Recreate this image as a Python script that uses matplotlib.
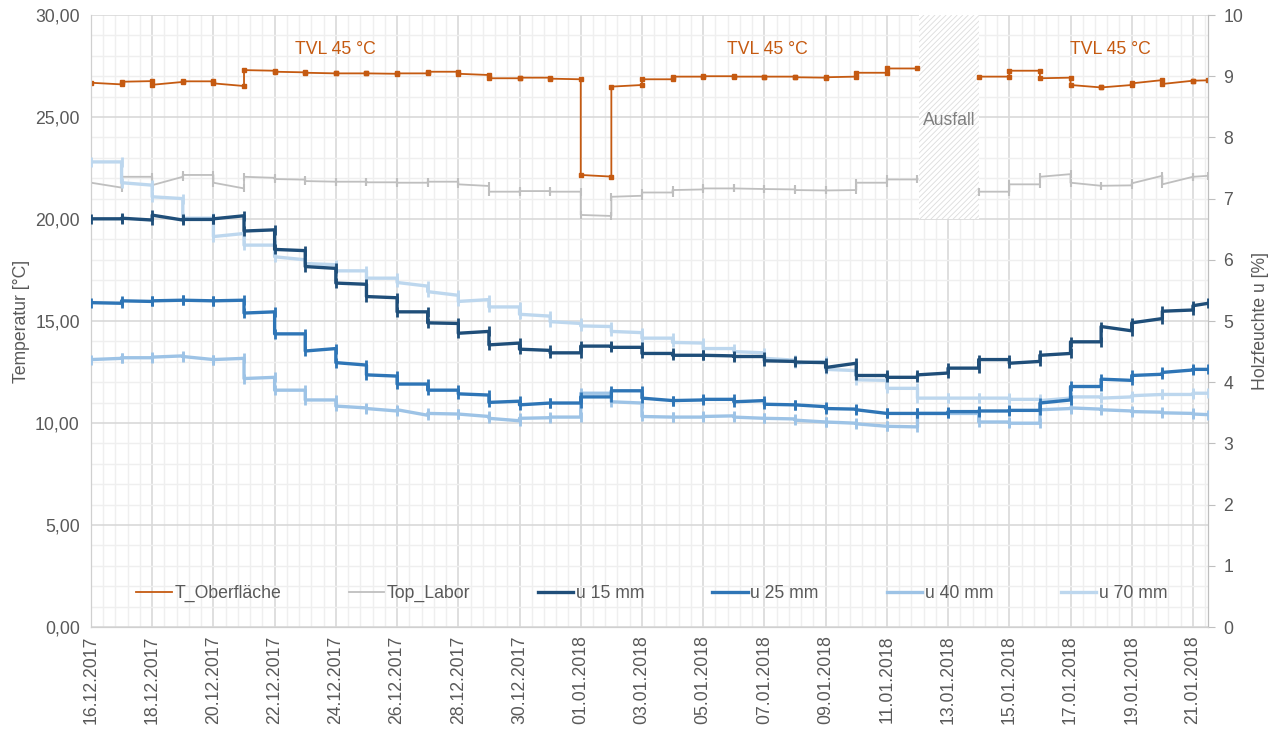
import numpy as np
import matplotlib
matplotlib.use("Agg")
import matplotlib.pyplot as plt
import matplotlib.dates as mdates
from matplotlib.ticker import MultipleLocator, FuncFormatter
from datetime import datetime

plt.rcParams['font.family'] = ['Liberation Sans', 'DejaVu Sans']
plt.rcParams['hatch.linewidth'] = 0.6
plt.rcParams['hatch.color'] = '#DCDCDC'

start_date = datetime(2017, 12, 16)
n_days = 37           # 16.12.2017 ... 21.01.2018
last_day_length = 0.5  # record ends at noon on 21.01.2018
nan = np.nan

# Daily readings: value at the start and at the end of each day
t_oberflaeche_start = [26.68, 26.73, 26.58, 26.75, 26.65, 27.30, 27.22, 27.17, 27.14, 27.14,
                       27.14, 27.22, 27.12, 26.90, 26.93, 26.88, 22.16, 26.49, 26.85, 26.98,
                       27.00, 26.98, 26.98, 26.95, 26.95, 27.17, 27.38, nan, nan, 26.98,
                       27.27, 26.90, 26.57, 26.45, 26.65, 26.62, 26.78]
t_oberflaeche_end = [26.60, 26.76, 26.72, 26.75, 26.52, 27.27, 27.19, 27.14, 27.14, 27.12,
                     27.14, 27.22, 27.06, 26.90, 26.93, 26.85, 22.08, 26.57, 26.85, 26.98,
                     27.00, 26.98, 26.98, 26.93, 26.98, 27.17, 27.38, nan, nan, 26.98,
                     27.27, 26.93, 26.45, 26.57, 26.81, 26.78, 26.80]

top_labor_start = [21.78, 22.07, 21.66, 22.16, 21.78, 22.07, 21.96, 21.86, 21.83, 21.80,
                   21.78, 21.83, 21.70, 21.34, 21.37, 21.34, 20.20, 21.09, 21.30, 21.42,
                   21.50, 21.50, 21.47, 21.42, 21.40, 21.78, 21.94, nan, nan, 21.34,
                   21.70, 22.07, 21.78, 21.63, 21.75, 21.70, 22.07]
top_labor_end = [21.54, 22.07, 22.07, 22.16, 21.50, 22.02, 21.93, 21.83, 21.83, 21.80,
                 21.78, 21.83, 21.62, 21.34, 21.37, 21.34, 20.15, 21.14, 21.30, 21.45,
                 21.50, 21.47, 21.45, 21.40, 21.42, 21.78, 21.94, nan, nan, 21.34,
                 21.70, 22.20, 21.63, 21.65, 22.12, 22.07, 22.12]

u15_start = [6.67, 6.68, 6.73, 6.66, 6.67, 6.47, 6.17, 5.89, 5.62, 5.40,
             5.15, 4.97, 4.80, 4.61, 4.54, 4.48, 4.59, 4.57, 4.47, 4.44,
             4.44, 4.42, 4.35, 4.33, 4.24, 4.11, 4.08, 4.12, 4.23, 4.37,
             4.31, 4.44, 4.66, 4.91, 4.97, 5.16, 5.25]
u15_end = [6.67, 6.65, 6.65, 6.66, 6.72, 6.49, 6.15, 5.86, 5.60, 5.38,
           5.15, 4.96, 4.83, 4.64, 4.52, 4.48, 4.59, 4.57, 4.47, 4.44,
           4.43, 4.42, 4.34, 4.32, 4.31, 4.11, 4.08, 4.15, 4.23, 4.37,
           4.34, 4.47, 4.66, 4.84, 5.04, 5.18, 5.29]

u25_start = [5.30, 5.33, 5.33, 5.34, 5.33, 5.13, 4.79, 4.51, 4.32, 4.12,
             3.97, 3.87, 3.81, 3.67, 3.63, 3.66, 3.76, 3.86, 3.74, 3.70,
             3.72, 3.68, 3.64, 3.63, 3.57, 3.55, 3.49, 3.49, 3.52, 3.53,
             3.54, 3.66, 3.93, 4.05, 4.11, 4.16, 4.21]
u25_end = [5.29, 5.32, 5.34, 5.33, 5.34, 5.15, 4.79, 4.55, 4.28, 4.10,
           3.97, 3.87, 3.79, 3.69, 3.66, 3.66, 3.76, 3.86, 3.70, 3.71,
           3.72, 3.70, 3.63, 3.60, 3.56, 3.49, 3.49, 3.49, 3.52, 3.53,
           3.54, 3.71, 3.93, 4.03, 4.13, 4.20, 4.21]

u40_start = [4.37, 4.40, 4.41, 4.42, 4.37, 4.06, 3.87, 3.71, 3.61, 3.57,
             3.55, 3.49, 3.48, 3.41, 3.41, 3.43, 3.82, 3.68, 3.44, 3.43,
             3.44, 3.43, 3.41, 3.38, 3.35, 3.32, 3.28, 3.49, 3.49, 3.35,
             3.33, 3.55, 3.58, 3.55, 3.52, 3.50, 3.48]
u40_end = [4.39, 4.40, 4.43, 4.37, 4.39, 4.08, 3.87, 3.71, 3.58, 3.53,
           3.46, 3.48, 3.44, 3.37, 3.42, 3.43, 3.82, 3.66, 3.43, 3.43,
           3.45, 3.41, 3.40, 3.35, 3.33, 3.28, 3.27, 3.49, 3.49, 3.35,
           3.33, 3.57, 3.56, 3.53, 3.51, 3.49, 3.47]

u70_start = [7.60, 7.26, 7.03, 6.68, 6.38, 6.24, 6.05, 5.94, 5.82, 5.70,
             5.63, 5.48, 5.32, 5.23, 5.11, 4.99, 4.92, 4.83, 4.72, 4.65,
             4.55, 4.50, 4.39, 4.31, 4.21, 4.04, 3.90, 3.74, 3.74, 3.74,
             3.72, 3.70, 3.76, 3.74, 3.78, 3.80, 3.82]
u70_end = [7.60, 7.22, 7.00, 6.68, 6.43, 6.24, 6.00, 5.92, 5.82, 5.70,
           5.57, 5.42, 5.35, 5.23, 5.08, 4.96, 4.91, 4.81, 4.72, 4.64,
           4.55, 4.48, 4.36, 4.34, 4.19, 4.03, 3.90, 3.74, 3.74, 3.74,
           3.72, 3.74, 3.76, 3.76, 3.80, 3.80, 3.82]

tvl_label_days = [8.0, 22.1, 33.3]
tvl_label_value = 28.3
ausfall_days = (27.05, 29.0)
ausfall_range = (20.0, 30.0)

C_OBER = '#C55A11'
C_LABOR = '#BFBFBF'
C_U15 = '#1F4E79'
C_U25 = '#2E75B6'
C_U40 = '#9DC3E6'
C_U70 = '#BDD7EE'
TXT = '#595959'
FS = 12.7

t0 = mdates.date2num(start_date)


def day_profile(starts, ends):
    xs, ys = [], []
    for d in range(n_days):
        d_end = d + (last_day_length if d == n_days - 1 else 1.0)
        xs += [t0 + d, t0 + d_end]
        ys += [starts[d], ends[d]]
    return np.array(xs), np.array(ys)


fig = plt.figure(figsize=(12.74, 7.33), dpi=100)
ax = fig.add_axes([0.0714, 0.1446, 0.8770, 0.8349])
ax2 = ax.twinx()

# grid
ax.set_xlim(t0, t0 + n_days - 1 + last_day_length)
ax.set_ylim(0, 30)
ax.xaxis.set_major_locator(MultipleLocator(2))
ax.xaxis.set_minor_locator(MultipleLocator(0.4))
ax.yaxis.set_major_locator(MultipleLocator(5))
ax.yaxis.set_minor_locator(MultipleLocator(1))
ax.grid(which='major', color='#D9D9D9', lw=1.2, zorder=0)
ax.grid(which='minor', color='#EFEFEF', lw=1.0, zorder=0)
ax.set_axisbelow(True)

# outage period
ax.fill_between([t0 + ausfall_days[0], t0 + ausfall_days[1]], ausfall_range[0], ausfall_range[1],
                facecolor='white', edgecolor='#DCDCDC', hatch='//////', lw=0, zorder=1)
ax.text(t0 + sum(ausfall_days) / 2, 24.85, 'Ausfall', color='#7F7F7F', fontsize=FS,
        ha='center', va='center', zorder=3)

# temperatures
x, y = day_profile(t_oberflaeche_start, t_oberflaeche_end)
l1, = ax.plot(x, y, color=C_OBER, lw=1.3, zorder=4, label='T_Oberfläche')
ax.plot(x, y, ls='none', marker='s', ms=2.8, color=C_OBER, zorder=4)
x, y = day_profile(top_labor_start, top_labor_end)
l2, = ax.plot(x, y, color=C_LABOR, lw=1.3, zorder=3, label='Top_Labor')
ax.plot(x, y, ls='none', marker='|', ms=6, mew=1.5, color=C_LABOR, zorder=3)

for xd in tvl_label_days:
    ax.text(t0 + xd, tvl_label_value, 'TVL 45 °C', color=C_OBER, fontsize=FS,
            ha='center', va='center')

# wood moisture
lines = []
for s, e, c, name in [(u70_start, u70_end, C_U70, 'u 70 mm'),
                      (u40_start, u40_end, C_U40, 'u 40 mm'),
                      (u25_start, u25_end, C_U25, 'u 25 mm'),
                      (u15_start, u15_end, C_U15, 'u 15 mm')]:
    x, y = day_profile(s, e)
    ln, = ax2.plot(x, y, color=c, lw=2.4, zorder=3, label=name)
    ax2.plot(x, y, ls='none', marker='|', ms=7, mew=2, color=c, zorder=3)
    lines.append(ln)
l70, l40, l25, l15 = lines

ax2.set_ylim(0, 10)
ax2.yaxis.set_major_locator(MultipleLocator(1))

# axes styling
ax.xaxis.set_major_formatter(mdates.DateFormatter('%d.%m.%Y'))
ax.yaxis.set_major_formatter(FuncFormatter(lambda v, p: f'{v:.2f}'.replace('.', ',')))
ax.tick_params(axis='x', which='both', length=0, labelrotation=90, labelsize=FS,
               labelcolor=TXT, pad=6)
ax.tick_params(axis='y', which='both', length=0, labelsize=FS, labelcolor=TXT, pad=8)
ax2.tick_params(axis='y', which='major', length=5, color='#BFBFBF', labelsize=FS,
                labelcolor=TXT, pad=6)
ax2.tick_params(axis='y', which='minor', length=0)
for a in (ax, ax2):
    a.spines['top'].set_visible(False)
    a.spines['left'].set_color('#D0D0D0')
    a.spines['right'].set_color('#BFBFBF')
    a.spines['bottom'].set_color('#D0D0D0')
ax.set_ylabel('Temperatur [°C]', fontsize=FS, color=TXT, labelpad=4)
ax2.set_ylabel('Holzfeuchte u [%]', fontsize=FS, color=TXT, labelpad=6)

ax2.legend([l1, l2, l15, l25, l40, l70],
           ['T_Oberfläche', 'Top_Labor', 'u 15 mm', 'u 25 mm', 'u 40 mm', 'u 70 mm'],
           loc='center', bbox_to_anchor=(0.502, 0.055), ncol=6, frameon=False,
           fontsize=FS, handlelength=2.0, handletextpad=0.15, columnspacing=3.85,
           labelcolor=TXT)

fig.savefig('out.png', dpi=100)
